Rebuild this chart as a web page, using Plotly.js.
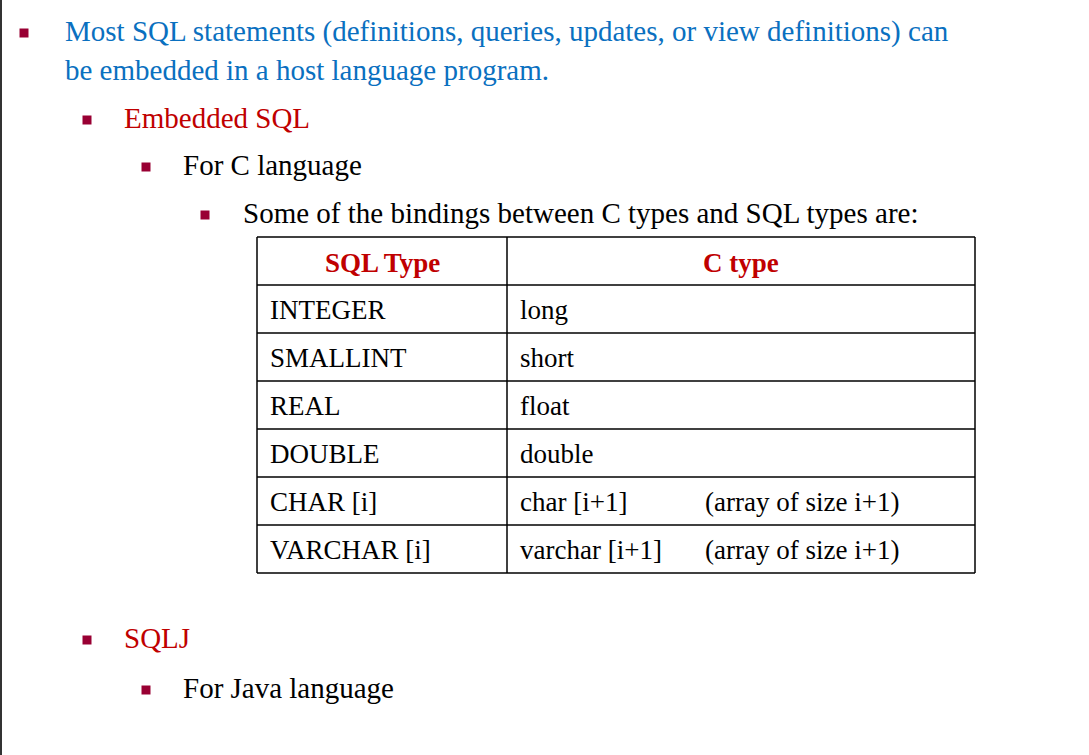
<!DOCTYPE html>
<html>
<head>
<meta charset="utf-8">
<script src="https://cdn.plot.ly/plotly-3.0.1.min.js"></script>
<style>html,body{margin:0;padding:0;background:#fff}#myDiv{width:1089px;height:755px}</style>
</head>
<body>
<div id="myDiv"></div>
<script>
// slide bullets: text, indent x, y, colour
var bulletText = [
  'Most SQL statements (definitions, queries, updates, or view definitions) can',
  'Embedded SQL',
  'For C language',
  'Some of the bindings between C types and SQL types are:',
  'SQLJ',
  'For Java language'
];
var bulletX = [63, 122, 181, 241, 122, 181];
var bulletY = [31, 118, 165, 213, 638, 688];
var bulletColor = ['#0a70c0', '#c00000', '#000', '#000', '#c00000', '#000'];
var markX = [24, 87, 146, 205, 87, 146];

var headers = ['SQL Type', 'C type'];
var sqlTypes = ['INTEGER', 'SMALLINT', 'REAL', 'DOUBLE', 'CHAR [i]', 'VARCHAR [i]'];
var cTypes = ['long', 'short', 'float', 'double', 'char [i+1]', 'varchar [i+1]'];
var notes = ['', '', '', '', '(array of size i+1)', '(array of size i+1)'];

var tblLeft = 257, tblMid = 507, tblRight = 975, tblTop = 237, rowH = 48;
var font = '"Liberation Serif", "Times New Roman", serif';

var ann = [];
bulletText.forEach(function (t, i) {
  ann.push({x: bulletX[i], y: bulletY[i], text: t, showarrow: false, xanchor: 'left', yanchor: 'middle',
    font: {family: font, size: 29, color: bulletColor[i]}});
});
ann.push({x: 63, y: 70, text: 'be embedded in a host language program.', showarrow: false, xanchor: 'left',
  yanchor: 'middle', font: {family: font, size: 29, color: '#0a70c0'}});

ann.push({x: (tblLeft + tblMid) / 2, y: tblTop + rowH / 2 + 2, text: '<b>' + headers[0] + '</b>', showarrow: false,
  font: {family: font, size: 27, color: '#c00000'}});
ann.push({x: (tblMid + tblRight) / 2, y: tblTop + rowH / 2 + 2, text: '<b>' + headers[1] + '</b>', showarrow: false,
  font: {family: font, size: 27, color: '#c00000'}});
sqlTypes.forEach(function (s, i) {
  var yc = tblTop + rowH * (i + 1.5) + 1;
  ann.push({x: 268, y: yc, text: s, showarrow: false, xanchor: 'left', font: {family: font, size: 27, color: '#000'}});
  ann.push({x: 518, y: yc, text: cTypes[i], showarrow: false, xanchor: 'left', font: {family: font, size: 27, color: '#000'}});
  if (notes[i]) ann.push({x: 703, y: yc, text: notes[i], showarrow: false, xanchor: 'left',
    font: {family: font, size: 27, color: '#000'}});
});

var nRows = sqlTypes.length + 1;
var shapes = [];
for (var r = 0; r <= nRows; r++) {
  shapes.push({type: 'line', x0: tblLeft, x1: tblRight, y0: tblTop + r * rowH, y1: tblTop + r * rowH,
    line: {color: '#000', width: 1.5}});
}
[tblLeft, tblMid, tblRight].forEach(function (x) {
  shapes.push({type: 'line', x0: x, x1: x, y0: tblTop, y1: tblTop + nRows * rowH, line: {color: '#000', width: 1.5}});
});
shapes.push({type: 'line', x0: 1, x1: 1, y0: 0, y1: 755, line: {color: '#333', width: 2}});

var marks = {
  x: markX, y: bulletY.map(function (y) { return y + 2; }),
  mode: 'markers', type: 'scatter', hoverinfo: 'skip',
  marker: {symbol: 'square', size: 9, color: '#990033'}
};

var layout = {
  width: 1089, height: 755,
  margin: {l: 0, r: 0, t: 0, b: 0},
  paper_bgcolor: '#fff', plot_bgcolor: '#fff',
  showlegend: false,
  xaxis: {range: [0, 1089], visible: false, fixedrange: true},
  yaxis: {range: [755, 0], visible: false, fixedrange: true},
  annotations: ann,
  shapes: shapes
};
Plotly.newPlot('myDiv', [marks], layout, {displayModeBar: false, staticPlot: true});
</script>
</body>
</html>
